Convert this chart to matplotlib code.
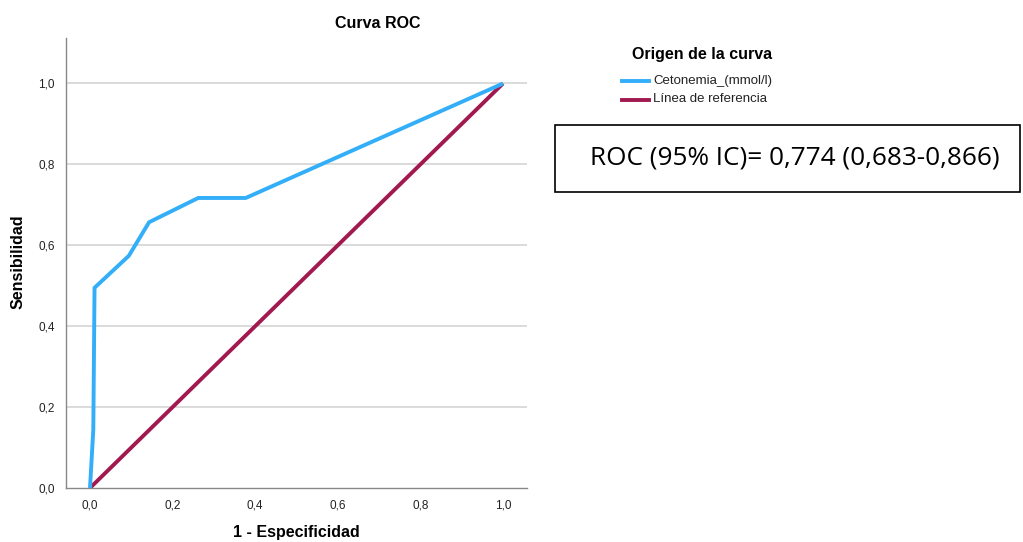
import matplotlib
matplotlib.use("Agg")
import matplotlib.pyplot as plt
from matplotlib.patches import Rectangle
from matplotlib.lines import Line2D

plt.rcParams['font.family'] = ['Liberation Sans', 'DejaVu Sans']

fpr = [0.0, 0.008, 0.011, 0.094, 0.143, 0.262, 0.377, 1.0]
tpr = [0.0, 0.144, 0.495, 0.574, 0.657, 0.717, 0.717, 1.0]
ref_x = [0.0, 1.0]
ref_y = [0.0, 1.0]
ticks = [0.0, 0.2, 0.4, 0.6, 0.8, 1.0]
tick_labels = ["0,0", "0,2", "0,4", "0,6", "0,8", "1,0"]
series_names = ["Cetonemia_(mmol/l)", "Línea de referencia"]
auc_text = "ROC (95% IC)= 0,774 (0,683-0,866)"

blue = "#33AEF8"
maroon = "#A1194F"

fig = plt.figure(figsize=(10.23, 5.42), dpi=100)
W, H = 1023, 542
ax = fig.add_axes([66 / W, 1 - 488 / H, (527 - 66) / W, (488 - 38) / H])

xs = 503 - 90
ys = 488 - 83.5
ax.set_xlim(-24 / xs, (527 - 90) / xs)
ax.set_ylim(0, (488 - 38) / ys)

for t in ticks[1:]:
    ax.axhline(t, color="#D4D4D4", lw=1.2, zorder=0)

ax.plot(fpr, tpr, color=blue, lw=2.8, solid_capstyle="butt", zorder=3)
ax.plot(ref_x, ref_y, color=maroon, lw=2.8, solid_capstyle="butt", zorder=2)

ax.set_xticks(ticks)
ax.set_xticklabels(tick_labels, fontsize=8.5, color="#222222")
ax.set_yticks(ticks)
ax.set_yticklabels(tick_labels, fontsize=8.5, color="#222222")
ax.tick_params(length=0, pad=8)
for s in ["top", "right"]:
    ax.spines[s].set_visible(False)
for s in ["left", "bottom"]:
    ax.spines[s].set_color("#888888")
    ax.spines[s].set_linewidth(1.0)

fig.text(378 / W, 1 - 24 / H, "Curva ROC", ha="center", va="center",
         fontsize=11.5, fontweight="bold")
fig.text(296 / W, 1 - 533 / H, "1 - Especificidad", ha="center", va="center",
         fontsize=11.5, fontweight="bold")
fig.text(18 / W, 1 - 262 / H, "Sensibilidad", ha="center", va="center",
         rotation=90, fontsize=11.5, fontweight="bold")

# legend
fig.text(702 / W, 1 - 55 / H, "Origen de la curva", ha="center", va="center",
         fontsize=11.5, fontweight="bold")
for i, (name, col) in enumerate(zip(series_names, [blue, maroon])):
    y = 1 - (81 + 18.5 * i) / H
    fig.add_artist(Line2D([622 / W, 649 / W], [y, y], color=col, lw=2.8,
                          transform=fig.transFigure))
    fig.text(653 / W, y, name, ha="left", va="center", fontsize=9.5,
             color="#222222")

# AUC box
fig.add_artist(Rectangle((555 / W, 1 - 192 / H), (1020 - 555) / W, (192 - 125) / H,
                         transform=fig.transFigure, fill=False,
                         edgecolor="black", lw=1.2))
fig.text(795 / W, 1 - 158 / H, auc_text, ha="center", va="center",
         fontsize=18.8, family=["Open Sans", "DejaVu Sans"])

fig.savefig("out.png", dpi=100)
